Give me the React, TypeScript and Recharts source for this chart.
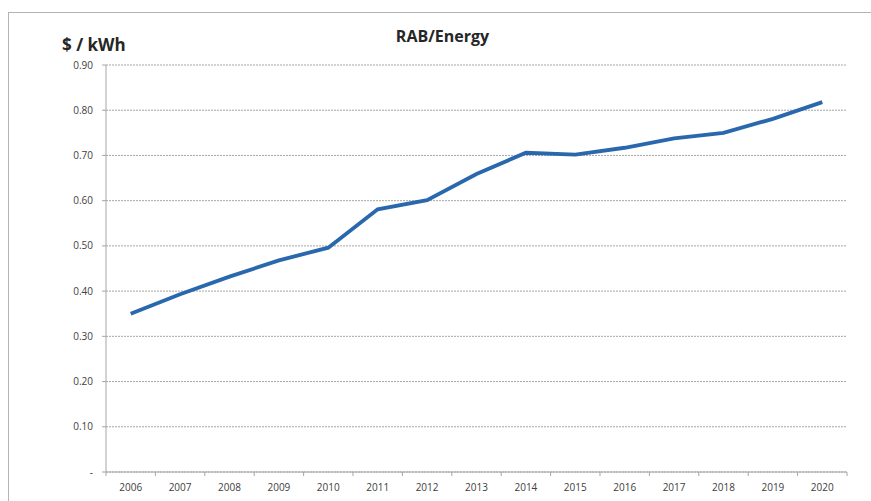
import { LineChart, Line, XAxis, YAxis, CartesianGrid } from 'recharts'

// RAB divided by energy delivered, $ per kWh
const years = [2006, 2007, 2008, 2009, 2010, 2011, 2012, 2013, 2014, 2015, 2016, 2017, 2018, 2019, 2020]
const rabPerKwh = [0.35, 0.393, 0.432, 0.468, 0.496, 0.581, 0.601, 0.659, 0.706, 0.702, 0.717, 0.738, 0.75, 0.781, 0.818]
const yTicks = [0, 0.1, 0.2, 0.3, 0.4, 0.5, 0.6, 0.7, 0.8, 0.9]

const data = years.map((year, i) => ({ year, value: rabPerKwh[i] }))

// tick marks sit between the years, labels sit on them
const boundaryTicks = [...years.map((y) => y - 0.5), years[years.length - 1] + 0.5]
const xDomain = [years[0] - 0.5, years[years.length - 1] + 0.5]

const axisGray = '#a6a6a6'
const labelStyle = { fill: '#404040', fontSize: 10, fontFamily: 'Open Sans, sans-serif' }

export default function App() {
  return (
    <div style={{ position: 'absolute', left: 0, top: 0, width: 871, height: 501, background: '#fff', overflow: 'hidden' }}>
      <div
        style={{
          position: 'absolute',
          left: 8,
          top: 12,
          width: 900,
          height: 520,
          borderLeft: '1px solid #b4b4b4',
          borderTop: '1px solid #b4b4b4',
        }}
      />
      <div
        style={{
          position: 'absolute',
          left: 7,
          width: 871,
          top: 25,
          textAlign: 'center',
          fontFamily: 'Open Sans, sans-serif',
          fontWeight: 700,
          fontSize: 16,
          color: '#262626',
        }}
      >
        RAB/Energy
      </div>
      <div
        style={{
          position: 'absolute',
          left: 62,
          top: 33,
          fontFamily: 'Open Sans, sans-serif',
          fontWeight: 700,
          fontSize: 17,
          color: '#262626',
        }}
      >
        $ / kWh
      </div>
      <div style={{ position: 'absolute', left: 0, top: 0 }}>
        <LineChart width={871} height={501} data={data} margin={{ top: 65, right: 24, bottom: 0, left: 0 }}>
          <CartesianGrid xAxisId="a-marks" vertical={false} stroke={axisGray} strokeDasharray="2 1" />
          <XAxis
            xAxisId="a-marks"
            dataKey="year"
            type="number"
            domain={xDomain}
            ticks={boundaryTicks}
            tickFormatter={() => ''}
            stroke={axisGray}
            tickSize={4}
            height={4}
          />
          <XAxis
            xAxisId="b-labels"
            dataKey="year"
            type="number"
            domain={xDomain}
            ticks={years}
            axisLine={false}
            tickLine={false}
            tick={labelStyle}
            tickMargin={2}
            height={25}
          />
          <YAxis
            width={106}
            domain={[0, 0.9]}
            ticks={yTicks}
            stroke={axisGray}
            tickSize={4}
            tick={labelStyle}
            tickMargin={9}
            tickFormatter={(v: number) => (v === 0 ? '-' : v.toFixed(2))}
          />
          <Line
            xAxisId="a-marks"
            dataKey="value"
            type="linear"
            stroke="#2a68ad"
            strokeWidth={3.8}
            dot={false}
            isAnimationActive={false}
          />
        </LineChart>
      </div>
    </div>
  )
}
